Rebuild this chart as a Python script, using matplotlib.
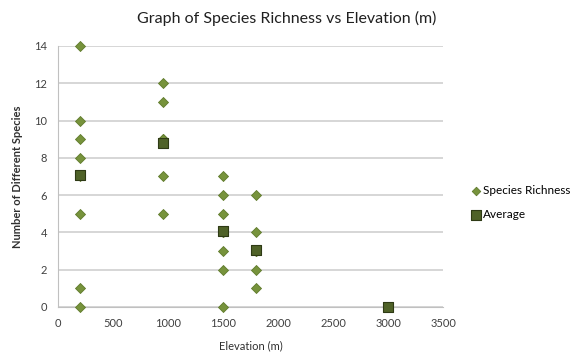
import matplotlib.pyplot as plt
import numpy as np

# species richness samples per elevation (m)
richness_x = [200] * 8 + [950] * 6 + [1500] * 8 + [1800] * 6 + [3000]
richness_y = [14, 10, 9, 8, 7, 5, 1, 0,
              12, 11, 9, 9, 7, 5,
              7, 6, 5, 4, 4, 3, 2, 0,
              6, 4, 3, 3, 2, 1,
              0]

avg_x = [200, 950, 1500, 1800, 3000]
avg_y = [7.1, 8.8, 4.1, 3.05, 0]

plt.rcParams['font.family'] = ['Lato', 'DejaVu Sans']

fig = plt.figure(figsize=(5.74, 3.62), dpi=100)
ax = fig.add_axes([0.101, 0.152, 0.671, 0.721])

ax.scatter(richness_x, richness_y, marker='D', s=26, color='#77933C',
           edgecolors='#5f7a2c', linewidths=0.6, label='Species Richness', zorder=3)
ax.scatter(avg_x, avg_y, marker='s', s=60, color='#4F6228',
           edgecolors='#2e3a15', linewidths=0.8, label='Average', zorder=4)

ax.set_xlim(0, 3500)
ax.set_ylim(0, 14)
ax.set_xticks(np.arange(0, 3501, 500))
ax.set_yticks(np.arange(0, 15, 2))
ax.yaxis.grid(True, color='#d0d0d0', linewidth=1.2)
ax.set_axisbelow(True)
for s in ['top', 'right']:
    ax.spines[s].set_visible(False)
for s in ['left', 'bottom']:
    ax.spines[s].set_color('#c0c0c0')
ax.tick_params(axis='both', length=0, labelsize=8, colors='#404040', pad=8)
for c in ax.collections:
    c.set_clip_on(False)

fig.text(0.5, 0.95, 'Graph of Species Richness vs Elevation (m)', fontsize=11.5,
         color='#202020', ha='center', va='center')
ax.set_xlabel('Elevation (m)', fontsize=8, color='#303030', labelpad=8)
ax.set_ylabel('Number of Different Species', fontsize=8, color='#303030',
              labelpad=8, fontweight='bold')

ax.legend(loc='center left', bbox_to_anchor=(1.075, 0.40), frameon=False,
          fontsize=8.5, handlelength=0.7, handletextpad=0.25, labelspacing=1.1,
          markerscale=0.85, borderaxespad=0.0, borderpad=0.0)

fig.savefig('out.png', dpi=100)
